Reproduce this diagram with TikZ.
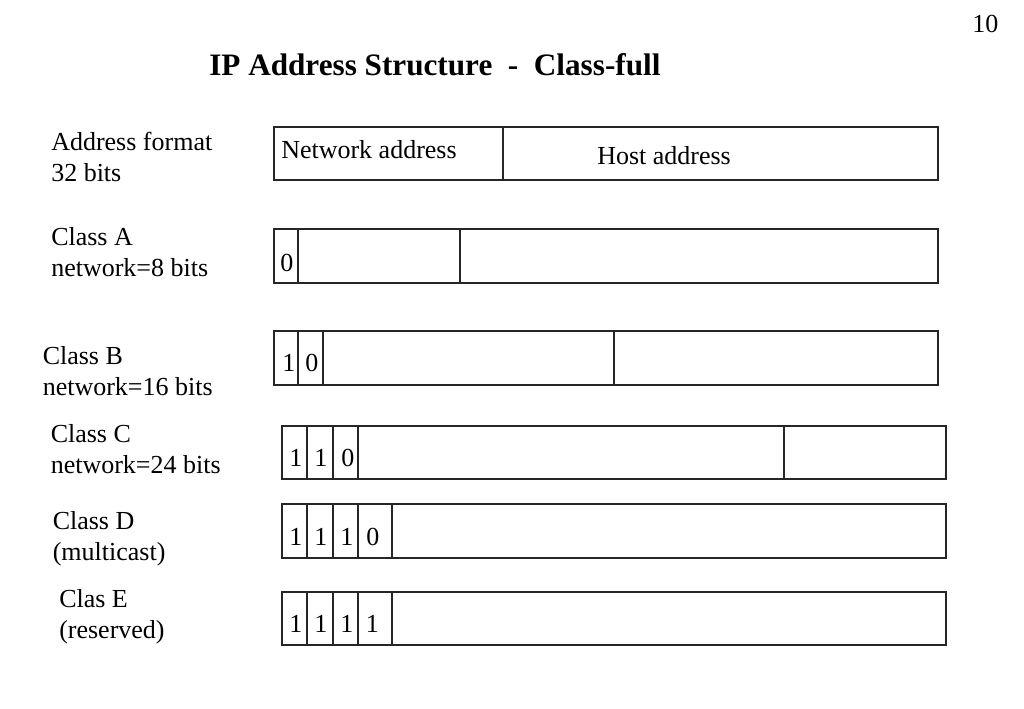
\documentclass[tikz,border=0pt]{standalone}
\usepackage{fontspec}
\setmainfont{Liberation Serif}
\begin{document}
\begin{tikzpicture}[x=0.75pt,y=-0.75pt,
  lbl/.style={anchor=base west,inner sep=0pt,align=left,font=\fontsize{19.5}{23.25}\selectfont},
  txt/.style={anchor=base west,inner sep=0pt,font=\fontsize{19.5}{23.25}\selectfont},
  cell/.style={draw=black!85,line width=0.9pt}]
\useasboundingbox[fill=white] (0,0) rectangle (1024,709);
% page number and title
\node[txt] (pg) at (972,32.7) {10};
\node[anchor=base west,inner sep=0pt,font=\fontsize{23.4}{28}\selectfont\bfseries] (title) at (209,76) {IP Address Structure\ \ -\ \ Class-full};
% left labels (anchor = baseline of the last line)
\node[lbl] (lfmt) at (51,182) {Address format\\32 bits};
\node[lbl] (lA) at (51,276.7) {Class A\\network=8 bits};
\node[lbl] (lB) at (42.5,395) {Class B\\network=16 bits};
\node[lbl] (lC) at (50.5,473) {Class C\\network=24 bits};
\node[lbl] (lD) at (52.5,560) {Class D\\(multicast)};
\node[lbl] (lE) at (59,638) {Clas E\\(reserved)};
% address format row
\draw[cell] (274,127) rectangle (938,180) (503,127) -- (503,180);
\node[txt] (net) at (281,159) {Network address};
\node[txt] (host) at (597,165) {Host address};
% class A
\draw[cell] (274,229) rectangle (938,283) (298,229) -- (298,283) (460,229) -- (460,283);
\node[txt] (a0) at (280,271.7) {0};
% class B
\draw[cell] (274,331) rectangle (938,385) (298,331) -- (298,385) (323,331) -- (323,385) (614,331) -- (614,385);
\node[txt] (b0) at (282,371.7) {1};
\node[txt] (b1) at (305,371.7) {0};
% class C
\draw[cell] (282,426) rectangle (946,479) (307,426) -- (307,479) (333,426) -- (333,479) (358,426) -- (358,479) (784,426) -- (784,479);
\node[txt] (c0) at (289,466.7) {1};
\node[txt] (c1) at (314,466.7) {1};
\node[txt] (c2) at (341,466.7) {0};
% class D
\draw[cell] (282,504) rectangle (946,558) (307,504) -- (307,558) (333,504) -- (333,558) (358,504) -- (358,558) (392,504) -- (392,558);
\node[txt] (d0) at (289,545.7) {1};
\node[txt] (d1) at (314,545.7) {1};
\node[txt] (d2) at (340,545.7) {1};
\node[txt] (d3) at (366,545.7) {0};
% class E
\draw[cell] (282,592) rectangle (946,645) (307,592) -- (307,645) (333,592) -- (333,645) (358,592) -- (358,645) (392,592) -- (392,645);
\node[txt] (e0) at (289,632) {1};
\node[txt] (e1) at (314,632) {1};
\node[txt] (e2) at (340,632) {1};
\node[txt] (e3) at (365.5,632) {1};
\end{tikzpicture}
\end{document}
